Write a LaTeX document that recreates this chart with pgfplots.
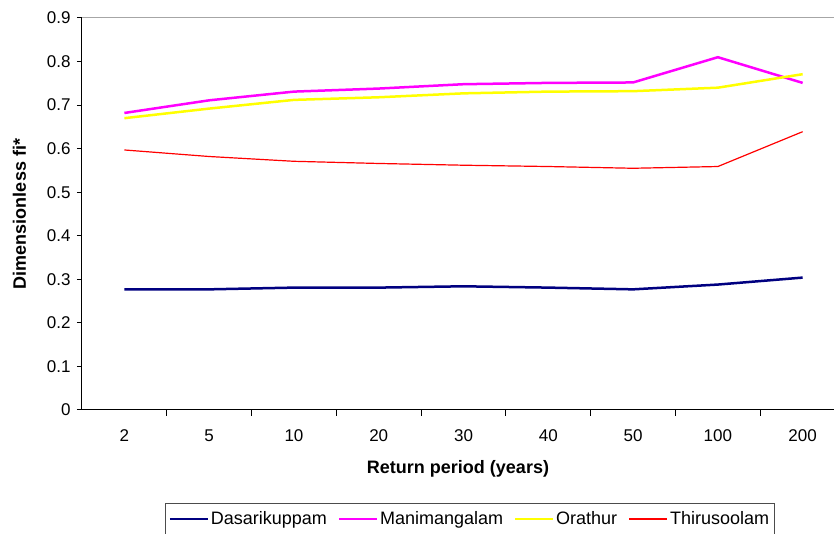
\documentclass[border=0pt]{standalone}
\usepackage{pgfplots}
\pgfplotsset{compat=1.18}
\usepackage{fontspec}
\setmainfont{Liberation Sans}
\definecolor{navyc}{RGB}{0,0,128}
\definecolor{magc}{RGB}{255,0,255}
\definecolor{yelc}{RGB}{255,255,0}
\definecolor{redc}{RGB}{255,0,0}
\begin{document}
\begin{tikzpicture}[x=1pt,y=1pt]
\useasboundingbox (-82pt,-124pt) rectangle (752pt,410pt);
\begin{axis}[
  at={(0pt,0pt)}, anchor=south west,
  scale only axis, width=752pt, height=392pt,
  xmin=-0.5, xmax=8.37, ymin=0, ymax=0.9,
  axis x line*=bottom, axis y line*=left,
  axis line style={black, line width=1pt},
  xtick={0,...,8},
  xticklabels={2,5,10,20,30,40,50,100,200},
  minor xtick={0.5,1.5,...,7.5},
  every major x tick/.style={draw=none},
  every minor x tick/.style={draw=black, line width=1pt},
  minor tick length=6pt,
  major tick length=5pt,
  tick align=outside,
  ytick={0,0.1,...,0.9},
  every major y tick/.style={draw=black, line width=1pt},
  yticklabel style={/pgf/number format/fixed, /pgf/number format/precision=1, xshift=-3pt},
  /pgf/number format/assume math mode=true,
  ticklabel style={font=\fontsize{17}{20}\selectfont, text=black},
  xticklabel style={yshift=-11pt},
  xlabel={\textbf{Return period (years)}},
  ylabel={\textbf{Dimensionless fi*}},
  label style={font=\fontsize{18}{21}\selectfont},
  xlabel style={yshift=-12pt},
  ylabel style={yshift=14pt},
  legend columns=4,
  legend style={at={(0.516,-0.278)}, anchor=center, font=\fontsize{18}{21}\selectfont,
    draw=black!70, line width=1pt, inner ysep=6pt, inner xsep=3pt,
    /tikz/every even column/.append style={column sep=9pt}},
  legend image code/.code={\draw[#1, line width=2pt] (0pt,0pt) -- (38pt,0pt);},
  clip=false,
]
\draw[gray!70, line width=1pt] (rel axis cs:0,1) -- (rel axis cs:1,1);
\addplot[navyc, line width=2.5pt] coordinates {(0,0.277)(1,0.277)(2,0.281)(3,0.281)(4,0.284)(5,0.281)(6,0.277)(7,0.288)(8,0.304)};
\addlegendentry{Dasarikuppam}
\addplot[magc, line width=2.5pt] coordinates {(0,0.682)(1,0.711)(2,0.731)(3,0.738)(4,0.748)(5,0.751)(6,0.752)(7,0.810)(8,0.751)};
\addlegendentry{Manimangalam}
\addplot[yelc, line width=2.5pt] coordinates {(0,0.670)(1,0.692)(2,0.712)(3,0.718)(4,0.727)(5,0.731)(6,0.732)(7,0.740)(8,0.771)};
\addlegendentry{Orathur}
\addplot[redc, line width=1.2pt] coordinates {(0,0.597)(1,0.582)(2,0.571)(3,0.566)(4,0.562)(5,0.559)(6,0.555)(7,0.559)(8,0.639)};
\addlegendentry{Thirusoolam}
\end{axis}
\end{tikzpicture}
\end{document}
